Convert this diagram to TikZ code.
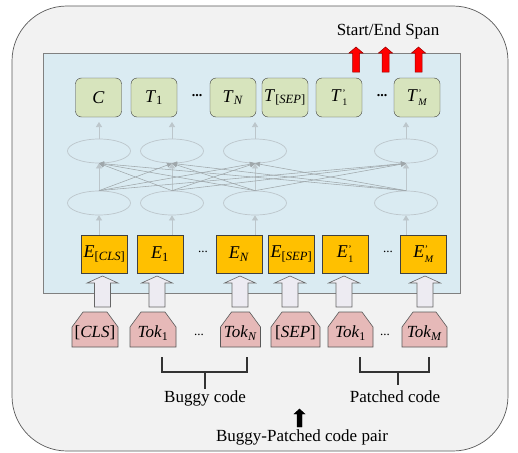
\documentclass[tikz,border=0pt]{standalone}
\usepackage{fontspec}
\setmainfont{Liberation Serif}
\usetikzlibrary{arrows.meta,calc,shapes.geometric}
\definecolor{outerfill}{HTML}{F2F2F2}
\definecolor{outerline}{HTML}{595959}
\definecolor{bluefill}{HTML}{DAEBF2}
\definecolor{blueline}{HTML}{808080}
\definecolor{tfill}{HTML}{D7E4BD}
\definecolor{efill}{HTML}{FFC000}
\definecolor{tokfill}{HTML}{E6B9B8}
\definecolor{hollow}{HTML}{EDEBF2}
\definecolor{litegray}{HTML}{BCC6CB}
\definecolor{crossgray}{HTML}{8E989C}
\newcommand{\ssub}[2]{\textit{#1}\textsubscript{#2}}
\newcommand{\psub}[2]{\textit{#1}\kern0.5pt\raisebox{-4.5pt}{\fontsize{10}{9.5}\selectfont\shortstack[l]{'\\#2}}}
\newcommand{\hollowarrow}[1]{%
  \draw[draw=gray!80!black,fill=hollow,line width=0.6pt]
    ({#1-8},307) -- ({#1-8},283) -- ({#1-15.5},283) -- (#1,276) -- ({#1+15.5},283)
    -- ({#1+8},283) -- ({#1+8},307) -- cycle;}
\newcommand{\redarrow}[1]{%
  \draw[draw=red!60!black,fill=red,line width=0.5pt]
    ({#1-3.5},72) -- ({#1-3.5},53) -- ({#1-7},53) -- (#1,47) -- ({#1+7},53)
    -- ({#1+3.5},53) -- ({#1+3.5},72) -- cycle;}
\newcommand{\tokshape}[4]{% name, x, halfwidth, label
  \draw[tokst] ({#2-#3},347) -- ({#2+#3},347) -- ({#2+#3},327) -- ({#2+#3-11},312)
    -- ({#2-#3+11},312) -- ({#2-#3},327) -- cycle;
  \node[toklbl] (#1) at (#2,333) {#4};}
\begin{document}
\begin{tikzpicture}[x=1pt,y=-1pt,
  tbox/.style={draw=black!75,fill=tfill,rounded corners=6pt,minimum width=46pt,minimum height=39pt,inner sep=0pt,font=\fontsize{18}{20}\selectfont},
  ebox/.style={draw=black!75,fill=efill,minimum width=46pt,minimum height=38pt,inner sep=0pt,font=\fontsize{18}{20}\selectfont},
  tokst/.style={draw=black!65,fill=tokfill,line width=0.6pt},
  toklbl/.style={inner sep=0pt,font=\fontsize{17}{19}\selectfont},
  ell/.style={draw=litegray,ellipse,minimum width=63pt,minimum height=24pt,inner sep=0pt,line width=0.7pt},
  lite/.style={draw=litegray,line width=0.7pt,-{Triangle[width=6pt,length=5pt]}},
  cross/.style={draw=crossgray!85,line width=0.55pt,-{Triangle[width=5pt,length=5pt]}},
  lbl/.style={font=\fontsize{17}{19}\selectfont,inner sep=1pt}]
\useasboundingbox (0,0) rectangle (518,452);
% outer and inner panels
\draw[fill=outerfill,draw=outerline,line width=0.7pt,rounded corners=55pt] (12,6) rectangle (508,451);
\draw[fill=bluefill,draw=blueline,line width=1pt] (43,53) rectangle (460,293);
% ellipses
\foreach \i/\x in {1/99,2/172,3/255,4/406}{
  \node[ell] (ue\i) at (\x,151) {};
  \node[ell] (le\i) at (\x,203) {};
  \coordinate (et\i) at (\x,235);
  \coordinate (tb\i) at (\x,122);
}
% light vertical arrows
\foreach \i in {1,2,3,4}{
  \draw[lite] (et\i) -- (le\i.south);
  \draw[lite] (le\i.north) -- (ue\i.south);
  \draw[lite] (ue\i.north) -- (tb\i);
}
% cross connections
\foreach \i in {1,2,3,4}{
  \foreach \j in {1,2,3,4}{
    \ifnum\i=\j\else
      \draw[cross] (le\i.north) -- (ue\j.south);
    \fi
  }
}
% top output boxes
\node[tbox] (t0) at (98.5,97.5) {\textit{C}};
\node[tbox] (t1) at (154,97.5) {\ssub{T}{1}};
\node[font=\fontsize{14}{14}\selectfont\bfseries] (td1) at (197,96) {...};
\node[tbox] (tn) at (233,97.5) {\ssub{T}{\textit{N}}};
\node[tbox] (ts) at (285,97.5) {\ssub{T}{[\textit{SEP}]}};
\node[tbox] (tp1) at (339,97.5) {\psub{T}{1}};
\node[font=\fontsize{14}{14}\selectfont\bfseries] (td2) at (382,96) {...};
\node[tbox] (tpm) at (417,97.5) {\psub{T}{\textit{M}}};
% red output arrows and label
\redarrow{356}
\redarrow{385.5}
\redarrow{418.5}
\node[lbl] (span) at (388,31) {Start/End Span};
% embedding boxes
\node[ebox] (e0) at (104.5,254) {\ssub{E}{[\textit{CLS}]}};
\node[ebox] (e1) at (160,254) {\ssub{E}{1}};
\node[font=\fontsize{13}{13}\selectfont] (ed1) at (203,252) {...};
\node[ebox] (en) at (239,254) {\ssub{E}{\textit{N}}};
\node[ebox] (es) at (291.5,254) {\ssub{E}{[\textit{SEP}]}};
\node[ebox] (ep1) at (345,254) {\psub{E}{1}};
\node[font=\fontsize{13}{13}\selectfont] (ed2) at (388,252) {...};
\node[ebox] (epm) at (423.5,254) {\psub{E}{\textit{M}}};
% hollow input arrows
\hollowarrow{102.5}
\hollowarrow{157}
\hollowarrow{240}
\hollowarrow{290}
\hollowarrow{344}
\hollowarrow{425}
% tokens
\tokshape{k0}{95}{23}{[\textit{CLS}]}
\tokshape{k1}{153}{23}{\ssub{Tok}{1}}
\node[font=\fontsize{13}{13}\selectfont] (kd1) at (199,335) {...};
\tokshape{kn}{240.5}{20}{\ssub{Tok}{\textit{N}}}
\tokshape{ks}{295.5}{24.5}{[\textit{SEP}]}
\tokshape{kp1}{350.5}{22.5}{\ssub{Tok}{1}}
\node[font=\fontsize{13}{13}\selectfont] (kd2) at (385,335) {...};
\tokshape{kpm}{424.5}{22.5}{\ssub{Tok}{\textit{M}}}
% brackets
\node[lbl] (buggy) at (205,398) {Buggy code};
\node[lbl] (patched) at (395,397) {Patched code};
\draw[line width=1.2pt,black!80] (162,357) -- (162,372) -- (247,372) -- (247,357);
\coordinate (bstem) at (205,372);
\draw[line width=1.2pt,black!80] (bstem) -- (buggy.north);
\draw[line width=1.2pt,black!80] (360,357) -- (360,372) -- (429,372) -- (429,357);
\coordinate (pstem) at (398,372);
\draw[line width=1.2pt,black!80] (pstem) -- (398,385);
% bottom pair arrow and label
\draw[fill=black] (297,427) -- (297,414) -- (294,414) -- (299.5,409) -- (305,414) -- (302,414) -- (302,427) -- cycle;
\node[lbl] (pair) at (302,437) {Buggy-Patched code pair};
\end{tikzpicture}
\end{document}
